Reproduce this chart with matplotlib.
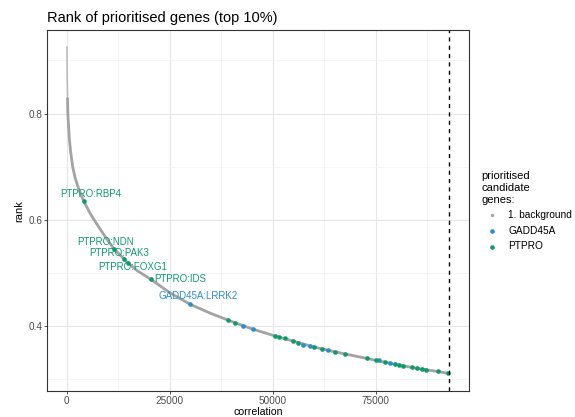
import matplotlib
matplotlib.use("Agg")
import matplotlib.pyplot as plt

plt.rcParams['font.family'] = ['Liberation Sans', 'DejaVu Sans']

# background curve (read anchor points) - upper sparse part
top_x = [0, 40, 90, 150, 220, 400]
top_y = [0.925, 0.89, 0.86, 0.83, 0.80, 0.775]
# background curve - dense part
bg_x = [150, 220, 400, 600, 900, 1400, 2000, 3000, 4100, 5800, 7700, 9500, 11400, 14300,
        17000, 20400, 25000, 30000, 35000, 40000, 45000, 50000, 55000, 60000, 65000,
        70000, 75000, 80000, 85000, 90000, 93000]
bg_y = [0.83, 0.80, 0.775, 0.752, 0.728, 0.70, 0.679, 0.655, 0.635, 0.610, 0.587, 0.566,
        0.546, 0.523, 0.505, 0.488, 0.463, 0.441, 0.424, 0.409, 0.395, 0.383, 0.372,
        0.361, 0.352, 0.344, 0.336, 0.328, 0.321, 0.315, 0.311]

# PTPRO points
ptpro_x = [4100, 11400, 13800, 14800, 20400, 39200, 40900, 50600, 51600, 53000,
           54900, 56100, 59900, 62000, 65100, 67500, 72800, 75000, 77200, 79600,
           80700, 81700, 83700, 85000, 86300, 87300, 90100, 92600]
ptpro_y = [0.635, 0.546, 0.527, 0.519, 0.488, 0.411, 0.406, 0.381, 0.379, 0.377,
           0.372, 0.369, 0.361, 0.357, 0.351, 0.347, 0.340, 0.336, 0.333, 0.329,
           0.327, 0.326, 0.324, 0.322, 0.320, 0.318, 0.315, 0.312]

# GADD45A points
gadd_x = [30000, 42800, 45300, 57300, 59000, 63500, 75900, 78500]
gadd_y = [0.441, 0.400, 0.394, 0.365, 0.362, 0.355, 0.336, 0.331]

labels = ["PTPRO:RBP4", "PTPRO:NDN", "PTPRO:PAK3", "PTPRO:FOXG1", "PTPRO:IDS", "GADD45A:LRRK2"]
label_x = [5800, 9400, 12600, 16000, 27600, 31900]
label_y = [0.648, 0.559, 0.537, 0.511, 0.489, 0.456]
label_group = ["PTPRO", "PTPRO", "PTPRO", "PTPRO", "PTPRO", "GADD45A"]

cutoff = 92900

GREY = '#a3a3a3'
BLUE = '#2a8fd0'
GREEN = '#0f9a6e'
colors = {"PTPRO": GREEN, "GADD45A": BLUE}

fig = plt.figure(figsize=(5.75, 4.17), dpi=100)
ax = fig.add_axes([0.082, 0.062, 0.734, 0.866])

ax.plot(top_x, top_y, color='#b8b8b8', lw=1.1, zorder=2)
ax.plot(bg_x, bg_y, color=GREY, lw=2.0, solid_capstyle='butt', zorder=2)
ax.scatter([], [], s=6, color=GREY, label='1. background', linewidths=0)
ax.scatter(gadd_x, gadd_y, s=11, color=BLUE, zorder=3, label='GADD45A', linewidths=0)
ax.scatter(ptpro_x, ptpro_y, s=11, color=GREEN, zorder=3, label='PTPRO', linewidths=0)

for t, x, y, g in zip(labels, label_x, label_y, label_group):
    ax.text(x, y, t, color=colors[g], fontsize=7, ha='center', va='center', zorder=4)

ax.axvline(cutoff, color='black', ls=(0, (3, 3)), lw=1.0, zorder=3)

ax.set_xlim(-4800, 97700)
ax.set_ylim(0.278, 0.957)
ax.set_xticks([0, 25000, 50000, 75000])
ax.set_xticklabels(['0', '25000', '50000', '75000'])
ax.set_yticks([0.4, 0.6, 0.8])
ax.set_xticks([12500, 37500, 62500, 87500], minor=True)
ax.set_yticks([0.3, 0.5, 0.7, 0.9], minor=True)
ax.grid(True, which='major', color='#e6e6e6', lw=0.8)
ax.grid(True, which='minor', color='#f2f2f2', lw=0.5)
ax.set_axisbelow(True)
ax.tick_params(which='minor', length=0)
ax.tick_params(which='major', length=2, width=0.6, color='#333333',
               labelsize=7.2, labelcolor='#4d4d4d', pad=1.5)
for s in ax.spines.values():
    s.set_color('#333333')
    s.set_linewidth(0.8)

ax.set_xlabel('correlation', fontsize=7.6, labelpad=0.5)
ax.set_ylabel('rank', fontsize=8, labelpad=3)
ax.set_title('Rank of prioritised genes (top 10%)', fontsize=10.5, loc='left', pad=6)

leg = ax.legend(title='prioritised\ncandidate\ngenes:', loc='upper left',
                bbox_to_anchor=(1.02, 0.62), frameon=False, fontsize=7.3,
                title_fontsize=8, markerscale=1.0, handletextpad=0.6,
                labelspacing=0.55, borderaxespad=0)
leg._legend_box.align = 'left'

fig.savefig('out.png', dpi=100)
